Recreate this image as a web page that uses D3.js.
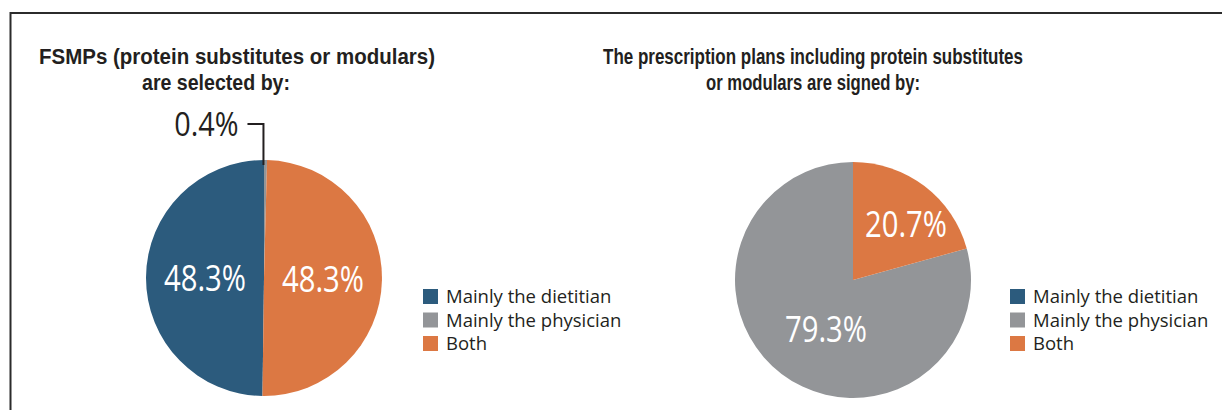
<!DOCTYPE html>
<html>
<head>
<meta charset="utf-8">
<script src="https://cdn.jsdelivr.net/npm/d3@7"></script>
<style>
  body { margin: 0; background: #fff; }
  svg { display: block; }
</style>
</head>
<body>
<div id="chart"></div>
<script>
'use strict';

// Data
const categories = ['Mainly the dietitian', 'Mainly the physician', 'Both'];
const selectedBy = [48.3, 0.4, 48.3];
const signedBy = [0, 79.3, 20.7];
const titleSelected = ['FSMPs (protein substitutes or modulars)', 'are selected by:'];
const titleSigned = ['The prescription plans including protein substitutes', 'or modulars are signed by:'];

const colors = ['#2c5b7d', '#939598', '#dc7843'];
const textColor = '#231f20';

const settings = {
    width: 1222,
    height: 410,
    elId: '#chart'
};

// one entry per pie (layout only)
const charts = [
    { values: selectedBy, title: titleSelected, cx: 264, cy: 278, r: 118, firstSlice: 1,
      labelR: 0.5, labelShift: [0, 0], titleX: [237, 216], titleW: [396, 148], legendX: 423 },
    { values: signedBy, title: titleSigned, cx: 853, cy: 280, r: 118, firstSlice: 2,
      labelR: 0.56, labelShift: [13, -4], titleX: [813, 813], titleW: [420, 214], legendX: 1010 }
];

const font = "'Open Sans', sans-serif";
const titleFont = "'Liberation Sans', Arial, sans-serif";

const svg = d3.select(settings.elId)
    .append('svg')
    .attr('width', settings.width)
    .attr('height', settings.height);

// frame lines
svg.append('path')
    .attr('d', 'M10.5,410 V13 H1222')
    .attr('fill', 'none')
    .attr('stroke', '#2b2b2b')
    .attr('stroke-width', 2);

charts.forEach(c => {
    const total = d3.sum(c.values);
    // rotate so that slice `firstSlice` starts at 12 o'clock
    const before = d3.sum(c.values.slice(0, c.firstSlice));
    const start = -2 * Math.PI * before / total;

    const pie = d3.pie()
        .sort(null)
        .value(d => d)
        .startAngle(start)
        .endAngle(start + 2 * Math.PI);

    const arc = d3.arc().innerRadius(0).outerRadius(c.r);
    const labelArc = d3.arc().innerRadius(c.r * c.labelR).outerRadius(c.r * c.labelR);

    const g = svg.append('g')
        .attr('transform', `translate(${c.cx},${c.cy})`);

    const arcs = pie(c.values).filter(d => d.value > 0);

    g.selectAll('path.slice')
        .data(arcs)
        .enter()
        .append('path')
        .attr('class', 'slice')
        .attr('d', arc)
        .attr('fill', d => colors[d.index]);

    // big labels inside (condensed look)
    g.selectAll('text.inside')
        .data(arcs.filter(d => d.value >= 5))
        .enter()
        .append('text')
        .attr('class', 'inside')
        .attr('transform', d => {
            const [x, y] = labelArc.centroid(d);
            return `translate(${x + c.labelShift[0]},${y + c.labelShift[1]}) scale(0.79,1)`;
        })
        .attr('text-anchor', 'middle')
        .attr('dy', '0.36em')
        .attr('font-family', font)
        .attr('font-size', 37)
        .attr('fill', '#fff')
        .text(d => d.value.toFixed(1) + '%');

    // small slice: label outside with a leader
    arcs.filter(d => d.value < 5).forEach(d => {
        const mid = (d.startAngle + d.endAngle) / 2;
        const px = Math.sin(mid) * (c.r - 5) - 2;
        const py = -Math.cos(mid) * (c.r - 5);
        const topY = -c.r - 36;
        g.append('path')
            .attr('d', `M${px},${py} V${topY} H${px - 16}`)
            .attr('fill', 'none')
            .attr('stroke', textColor)
            .attr('stroke-width', 2);
        g.append('text')
            .attr('transform', `translate(${px - 25},${topY + 12}) scale(0.9,1)`)
            .attr('text-anchor', 'end')
            .attr('font-family', font)
            .attr('font-size', 32)
            .attr('fill', textColor)
            .text(d.value.toFixed(1) + '%');
    });

    // title
    svg.append('g')
        .selectAll('text')
        .data(c.title)
        .enter()
        .append('text')
        .attr('x', (_, i) => c.titleX[i])
        .attr('y', (_, i) => 63.5 + i * 26.5)
        .attr('text-anchor', 'middle')
        .attr('textLength', (_, i) => c.titleW[i])
        .attr('lengthAdjust', 'spacingAndGlyphs')
        .attr('font-family', titleFont)
        .attr('font-weight', 'bold')
        .attr('font-size', 22.5)
        .attr('fill', textColor)
        .text(d => d);

    // legend
    const legend = svg.append('g')
        .attr('transform', `translate(${c.legendX},289)`);

    const row = legend.selectAll('g')
        .data(categories)
        .enter()
        .append('g')
        .attr('transform', (_, i) => `translate(0,${i * 23.5})`);

    row.append('rect')
        .attr('width', 15)
        .attr('height', 15)
        .attr('fill', (_, i) => colors[i]);

    row.append('text')
        .attr('x', 23)
        .attr('y', 14)
        .attr('font-family', font)
        .attr('font-size', 18.5)
        .attr('fill', textColor)
        .text(d => d);
});
</script>
</body>
</html>
